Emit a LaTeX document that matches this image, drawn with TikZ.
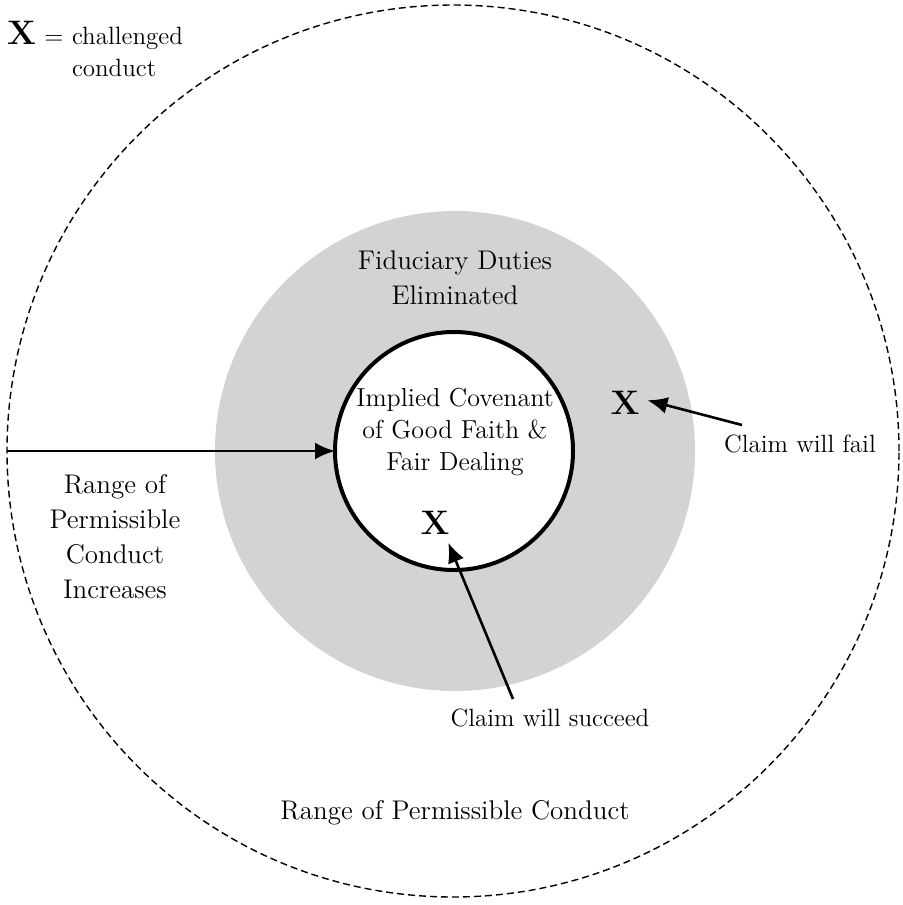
\documentclass[tikz,border=0pt]{standalone}
\usetikzlibrary{arrows.meta}
\definecolor{ringgray}{RGB}{209,211,212}
\begin{document}
\begin{tikzpicture}[x=0.5pt, y=-0.5pt, every node/.style={inner sep=0pt, outer sep=0pt},
    ring/.style={circle, minimum size=#1},
    bigtext/.style={font=\fontsize{13.5}{17.5}\selectfont, align=center},
    smalltext/.style={font=\fontsize{12.5}{16}\selectfont, align=center},
    xmark/.style={font=\fontsize{17}{20}\selectfont\bfseries, inner sep=4pt},
    pointer/.style={-{Latex[length=10pt,width=8.5pt]}, line width=1.3pt}]
\useasboundingbox (0,0) rectangle (903,905);
\node[ring=446pt, draw, dash pattern=on 3.5pt off 2pt, line width=0.7pt] (range) at (453,451) {};
\node[ring=240pt, fill=ringgray] (fiduciary) at (455,451) {};
\node[ring=119pt, draw, fill=white, line width=2pt] (covenant) at (454,451) {};
\node[bigtext] (fidlabel) at (455,278) {Fiduciary Duties\\Eliminated};
\node[bigtext, font=\fontsize{13}{16}\selectfont] (covlabel) at (455,432) {Implied Covenant\\of Good Faith \&\\Fair Dealing};
\node[bigtext] (increases) at (115,537) {Range of\\Permissible\\Conduct\\Increases};
\node[bigtext] (rangelabel) at (455,813) {Range of Permissible Conduct};
\node[xmark, anchor=base west, inner sep=0pt] (key) at (7,44) {X};
\node[smalltext, anchor=base] (equals) at (54,44) {=};
\node[smalltext, align=left, anchor=west] (keylabel) at (72,52) {challenged\\conduct};
\node[xmark] (xfail) at (625,403) {X};
\node[smalltext] (fail) at (800,444) {Claim will fail};
\node[xmark] (xsucceed) at (435,523) {X};
\node[smalltext] (succeed) at (550,718) {Claim will succeed};
\coordinate (failtail) at (742,425);
\coordinate (succeedtail) at (513,699);
\draw[pointer] (range.west) -- (covenant.west);
\draw[pointer] (failtail) -- (xfail.7);
\draw[pointer] (succeedtail) -- (xsucceed.-56);
\end{tikzpicture}
\end{document}
